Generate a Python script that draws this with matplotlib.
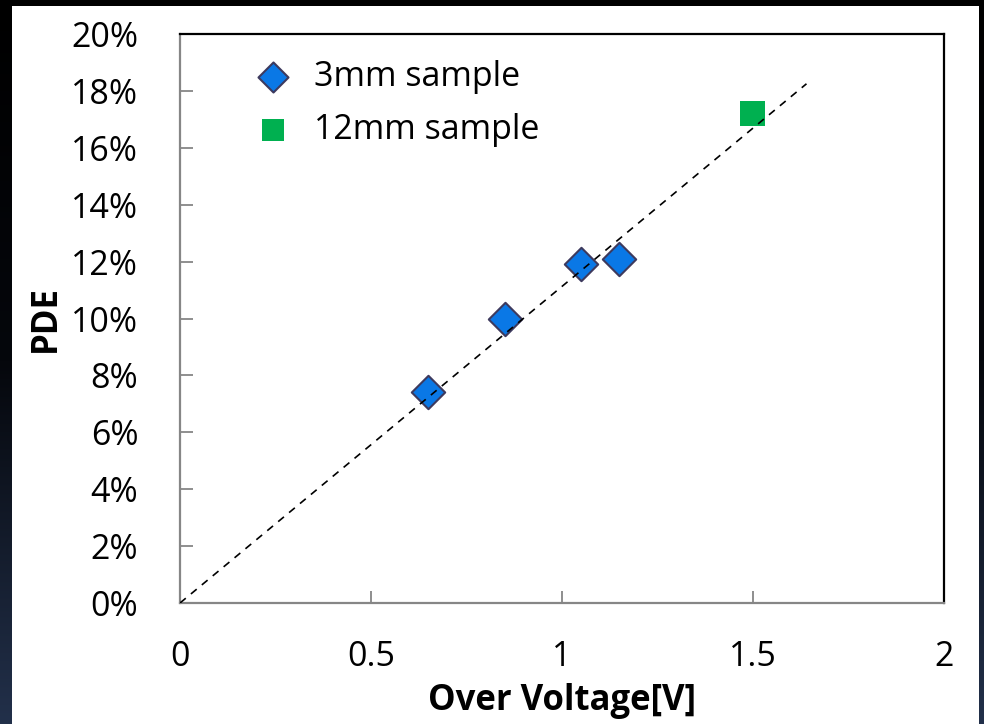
import matplotlib
matplotlib.use('Agg')
import matplotlib.pyplot as plt
import matplotlib.ticker as ticker
from matplotlib.patches import Rectangle
import numpy as np

plt.rcParams['font.family'] = ['Open Sans', 'DejaVu Sans']

# data
x_3mm = [0.65, 0.85, 1.05, 1.15]
pde_3mm = [7.4, 10.0, 11.9, 12.1]
x_12mm = [1.5]
pde_12mm = [17.2]
fit_x = [0.0, 1.64]
fit_y = [0.0, 18.25]
x_ticks = [0, 0.5, 1, 1.5, 2]
x_tick_labels = ['0', '0.5', '1', '1.5', '2']
y_ticks = [0, 2, 4, 6, 8, 10, 12, 14, 16, 18, 20]

fig = plt.figure(figsize=(9.84, 7.24), dpi=100)

# dark backdrop + white slide panel
bg = fig.add_axes([0, 0, 1, 1], zorder=-10)
grad = np.linspace(0, 1, 256).reshape(-1, 1)
bg.imshow(grad, aspect='auto', extent=[0, 1, 0, 1], origin='upper',
          cmap=matplotlib.colors.LinearSegmentedColormap.from_list(
              'bg', ['#000000', '#05070c', '#22304a']))
bg.add_patch(Rectangle((12 / 984, 0), (979 - 12) / 984, (724 - 6) / 724,
                       facecolor='white', edgecolor='none'))
bg.set_xlim(0, 1)
bg.set_ylim(0, 1)
bg.axis('off')

ax = fig.add_axes([180 / 984, (724 - 603) / 724, (944 - 180) / 984, (603 - 34) / 724])
ax.set_facecolor('none')

ax.scatter(x_3mm, pde_3mm, marker='D', s=17 ** 2, c='#0a78e6',
           edgecolors='#3d3a5e', linewidths=1.5, zorder=3, label='3mm sample')
ax.scatter(x_12mm, pde_12mm, marker='s', s=18 ** 2, c='#00b050',
           edgecolors='none', zorder=3, label='12mm sample')
ax.plot(fit_x, fit_y, color='black', lw=1.2, dashes=(4.5, 4), zorder=4)

ax.set_xlim(0, 2)
ax.set_ylim(0, 20)
ax.set_xticks(x_ticks)
ax.set_xticklabels(x_tick_labels)
ax.set_yticks(y_ticks)
ax.yaxis.set_major_formatter(ticker.FuncFormatter(lambda v, p: f'{v:.0f}%'))

ax.tick_params(axis='both', direction='in', length=9, width=1.3,
               color='#868686', labelsize=24.5, colors='black')
ax.tick_params(axis='y', pad=30)
ax.tick_params(axis='x', pad=27)
for side in ['left', 'bottom']:
    ax.spines[side].set_color('#868686')
    ax.spines[side].set_linewidth(1.6)
for side in ['top', 'right']:
    ax.spines[side].set_color('black')
    ax.spines[side].set_linewidth(1.6)

ax.set_xlabel('Over Voltage[V]', fontsize=25, fontweight='bold', labelpad=6)
ax.set_ylabel('PDE', fontsize=25, fontweight='bold', labelpad=5)

ax.legend(loc='upper left', bbox_to_anchor=(256 / 984, (724 - 60) / 724),
          bbox_transform=fig.transFigure, frameon=False, borderpad=0,
          borderaxespad=0, fontsize=24.5, markerscale=0.9, handlelength=1.0,
          handletextpad=0.7, labelspacing=0.55)

fig.savefig('out.png', dpi=100)
